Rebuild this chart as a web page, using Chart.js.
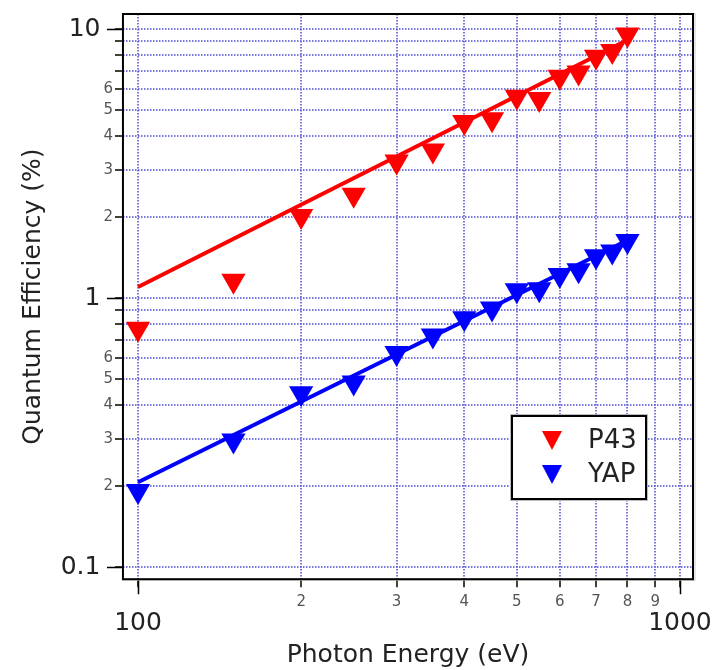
<!DOCTYPE html>
<html>
<head>
<meta charset="utf-8">
<script src="https://cdn.jsdelivr.net/npm/chart.js@4.4.1/dist/chart.umd.min.js"></script>
<style>
  html, body { margin: 0; padding: 0; background: #fff; }
</style>
</head>
<body>
<canvas id="grafico" width="717" height="670"></canvas>
<script>
// Energias medidas (eV)
const energias = [100, 150, 200, 250, 300, 350, 400, 450, 500, 550, 600, 650, 700, 750, 800];
// Eficiência quântica (%) de cada cintilador
const p43 = [0.77, 1.16, 2.02, 2.42, 3.22, 3.54, 4.51, 4.62, 5.6, 5.5, 6.64, 6.9, 7.88, 8.29, 9.55];
const yap = [0.192, 0.296, 0.443, 0.486, 0.625, 0.727, 0.842, 0.916, 1.07, 1.08, 1.22, 1.27, 1.43, 1.49, 1.63];

// Retas de ajuste (lei de potência, reta em log-log)
const energiasAjuste = [100, 800];
const p43Ajuste = [1.1, 9.1];
const yapAjuste = [0.207, 1.64];

// Marcas dos eixos
const xTicks = [100, 200, 300, 400, 500, 600, 700, 800, 900, 1000];
const xLabels = ['100', '2', '3', '4', '5', '6', '7', '8', '9', '1000'];
const xMaiores = [100, 1000];
const yTicks = [0.1, 0.2, 0.3, 0.4, 0.5, 0.6, 0.7, 0.8, 0.9, 1, 2, 3, 4, 5, 6, 7, 8, 9, 10];
const yLabels = ['0.1', '2', '3', '4', '5', '6', '', '', '', '1', '2', '3', '4', '5', '6', '', '', '', '10'];
const yMaiores = [0.1, 1, 10];

const FONTE = "'DejaVu Sans', sans-serif";
const COR_GRADE = 'rgba(95, 95, 215, 0.85)';

const pontos = (xs, ys) => xs.map((x, i) => ({ x: x, y: ys[i] }));
const ehMaior = (lista, v) => lista.some(m => Math.abs(m - v) < 1e-9);

// Moldura do gráfico, marcas maiores mais longas e legenda interna
const molduraPlugin = {
    id: 'moldura',
    afterDatasetsDraw(chart) {
        const { ctx, chartArea: a, scales } = chart;
        ctx.save();
        ctx.strokeStyle = '#000';
        ctx.lineWidth = 1.5;
        ctx.beginPath();
        xMaiores.forEach(v => {
            const px = Math.round(scales.x.getPixelForValue(v)) + 0.5;
            ctx.moveTo(px, a.bottom);
            ctx.lineTo(px, a.bottom + 15);
        });
        yMaiores.forEach(v => {
            const py = Math.round(scales.y.getPixelForValue(v)) + 0.5;
            ctx.moveTo(a.left - 16, py);
            ctx.lineTo(a.left, py);
        });
        ctx.stroke();
        ctx.strokeStyle = '#ccc';
        ctx.lineWidth = 1;
        ctx.strokeRect(a.left - 0.5, a.top - 0.5, a.right - a.left + 2.5, a.bottom - a.top + 1.5);
        ctx.strokeStyle = '#000';
        ctx.lineWidth = 2;
        ctx.strokeRect(a.left, a.top, a.right - a.left, a.bottom - a.top);
        ctx.restore();
    },
    afterDraw(chart) {
        const ctx = chart.ctx;
        const x0 = 512, y0 = 416, w = 134, h = 83;
        ctx.save();
        ctx.fillStyle = '#fff';
        ctx.fillRect(x0, y0, w, h);
        ctx.strokeStyle = '#bbb';
        ctx.lineWidth = 1;
        ctx.strokeRect(x0 - 1.5, y0 - 1.5, w + 3, h + 3);
        ctx.strokeStyle = '#000';
        ctx.lineWidth = 2;
        ctx.strokeRect(x0, y0, w, h);
        const itens = chart.data.datasets.filter(d => d.naLegenda);
        itens.forEach((ds, i) => {
            const cy = 437 + i * 34;
            ctx.fillStyle = ds.backgroundColor;
            ctx.beginPath();
            ctx.moveTo(542, cy - 6);
            ctx.lineTo(562, cy - 6);
            ctx.lineTo(552, cy + 13);
            ctx.closePath();
            ctx.fill();
            ctx.fillStyle = '#222';
            ctx.font = '26px ' + FONTE;
            ctx.textBaseline = 'middle';
            ctx.textAlign = 'left';
            ctx.fillText(ds.label, 588, cy + 4);
        });
        ctx.restore();
    }
};

const ctx = document.getElementById('grafico').getContext('2d');
new Chart(ctx, {
    type: 'scatter',
    data: {
        datasets: [
            {
                label: 'P43', naLegenda: true, data: pontos(energias, p43),
                backgroundColor: '#ff0000', borderColor: '#ff0000', borderWidth: 0,
                pointStyle: 'triangle', rotation: 180, pointRadius: 14, order: 1
            },
            {
                label: 'YAP', naLegenda: true, data: pontos(energias, yap),
                backgroundColor: '#0000ff', borderColor: '#0000ff', borderWidth: 0,
                pointStyle: 'triangle', rotation: 180, pointRadius: 14, order: 1
            },
            {
                label: 'Ajuste P43', data: pontos(energiasAjuste, p43Ajuste), showLine: true,
                borderColor: '#ff0000', borderWidth: 4, pointRadius: 0, order: 2
            },
            {
                label: 'Ajuste YAP', data: pontos(energiasAjuste, yapAjuste), showLine: true,
                borderColor: '#0000ff', borderWidth: 4, pointRadius: 0, order: 2
            }
        ]
    },
    options: {
        responsive: false,
        animation: false,
        devicePixelRatio: 1,
        layout: { padding: { left: 16, top: 12, right: 24, bottom: 0 } },
        plugins: { legend: { display: false }, tooltip: { enabled: false } },
        scales: {
            x: {
                type: 'logarithmic', min: 93.8, max: 1057,
                afterBuildTicks: s => { s.ticks = xTicks.map(v => ({ value: v })); },
                // o rótulo "1000" cabe na margem direita, não precisa de folga extra
                afterFit: s => { s.paddingRight = 0; s.paddingLeft = 0; },
                ticks: {
                    autoSkip: false, maxRotation: 0, padding: 6,
                    color: c => ehMaior(xMaiores, c.tick.value) ? '#222' : '#555',
                    font: c => ehMaior(xMaiores, c.tick.value)
                        ? { family: FONTE, size: 25, lineHeight: 0.816 }
                        : { family: FONTE, size: 15, lineHeight: 1.2 },
                    callback: (v, i) => ehMaior(xMaiores, v) ? ['', xLabels[i]] : xLabels[i]
                },
                grid: { color: COR_GRADE, lineWidth: 2, tickLength: 8, tickColor: '#000', tickWidth: 1.5 },
                border: { display: false, dash: [1.5, 1.5] },
                title: {
                    display: true, text: 'Photon Energy (eV)', color: '#222',
                    font: { family: FONTE, size: 25, lineHeight: 1.2 }, padding: { top: 0, bottom: 0 }
                }
            },
            y: {
                type: 'logarithmic', min: 0.0903, max: 11.37,
                afterBuildTicks: s => { s.ticks = yTicks.map(v => ({ value: v })); },
                afterFit: s => { s.paddingTop = 0; s.paddingBottom = 0; },
                ticks: {
                    autoSkip: false, padding: 2,
                    color: c => ehMaior(yMaiores, c.tick.value) ? '#222' : '#555',
                    font: c => ehMaior(yMaiores, c.tick.value)
                        ? { family: FONTE, size: 25, lineHeight: 1.2 }
                        : { family: FONTE, size: 15, lineHeight: 1.2 },
                    callback: (v, i) => ehMaior(yMaiores, v) ? yLabels[i] + '\u2002' : yLabels[i]
                },
                grid: { color: COR_GRADE, lineWidth: 2, tickLength: 8, tickColor: '#000', tickWidth: 1.5 },
                border: { display: false, dash: [1.5, 1.5] },
                title: {
                    display: true, text: 'Quantum Efficiency (%)', color: '#222',
                    font: { family: FONTE, size: 25, lineHeight: 1.2 }, padding: { top: 2, bottom: 10.7 }
                }
            }
        }
    },
    plugins: [molduraPlugin]
});
</script>
</body>
</html>
